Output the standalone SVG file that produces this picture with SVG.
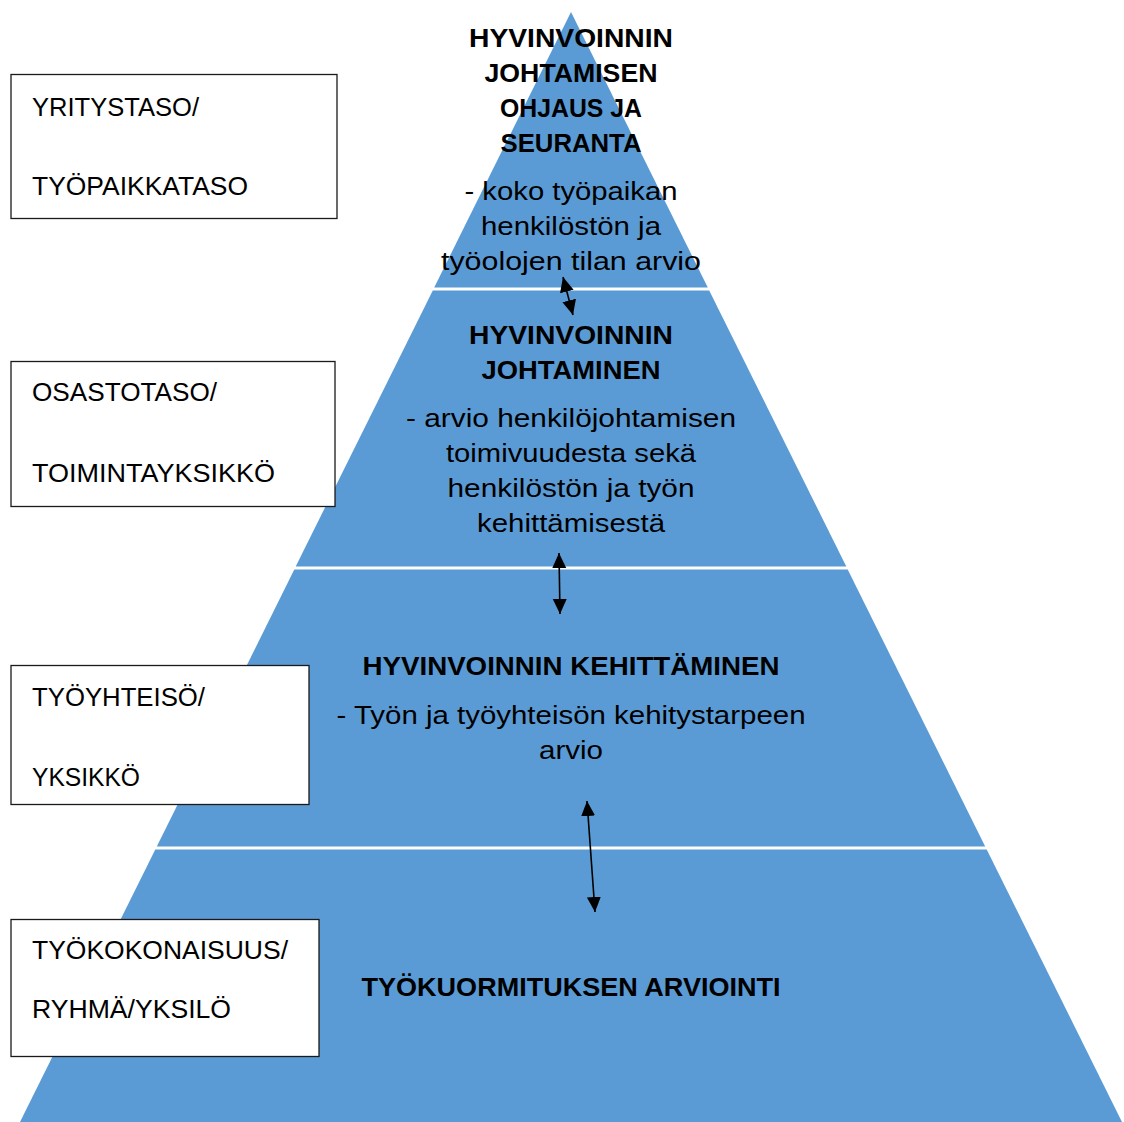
<svg xmlns="http://www.w3.org/2000/svg" width="1124" height="1122" viewBox="0 0 1124 1122">
<style>
.layer{fill:#5B9BD5;}
.box{fill:#FFFFFF;stroke:#1A1A1A;stroke-width:1.3;}
.t{font-family:"Liberation Sans",Arial,sans-serif;fill:#000;}
.h{font-size:26px;font-weight:bold;text-anchor:middle;}
.n{font-size:26px;text-anchor:middle;}
.l{font-size:25px;}
.con{stroke:#000;stroke-width:1.6;fill:none;marker-start:url(#ah);marker-end:url(#ah);}
</style>
<defs>
<marker id="ah" markerUnits="userSpaceOnUse" markerWidth="16" markerHeight="16" viewBox="0 0 16 14" refX="15" refY="7" orient="auto-start-reverse">
<path d="M0,0 L15,7 L0,14 z" fill="#000"/>
</marker>
</defs>
<rect width="1124" height="1122" fill="#FFFFFF"/>

<g id="layer1">
<polygon class="layer" points="571,12 707.8,287.5 434.2,287.5"/>
<text class="t h" x="571" y="47" textLength="204" lengthAdjust="spacingAndGlyphs">HYVINVOINNIN</text>
<text class="t h" x="571" y="82" textLength="173" lengthAdjust="spacingAndGlyphs">JOHTAMISEN</text>
<text class="t h" x="571" y="117" textLength="142" lengthAdjust="spacingAndGlyphs">OHJAUS JA</text>
<text class="t h" x="571" y="152" textLength="141" lengthAdjust="spacingAndGlyphs">SEURANTA</text>
<text class="t n" x="571" y="200" textLength="213" lengthAdjust="spacingAndGlyphs">- koko työpaikan</text>
<text class="t n" x="571" y="235" textLength="180" lengthAdjust="spacingAndGlyphs">henkilöstön ja</text>
<text class="t n" x="571" y="270" textLength="260" lengthAdjust="spacingAndGlyphs">työolojen tilan arvio</text>
</g>

<g id="layer2">
<polygon class="layer" points="432.8,290.5 709.2,290.5 846.3,566.5 295.7,566.5"/>
<text class="t h" x="571" y="344" textLength="204" lengthAdjust="spacingAndGlyphs">HYVINVOINNIN</text>
<text class="t h" x="571" y="379" textLength="179" lengthAdjust="spacingAndGlyphs">JOHTAMINEN</text>
<text class="t n" x="571" y="427" textLength="330" lengthAdjust="spacingAndGlyphs">- arvio henkilöjohtamisen</text>
<text class="t n" x="571" y="462" textLength="250" lengthAdjust="spacingAndGlyphs">toimivuudesta sekä</text>
<text class="t n" x="571" y="497" textLength="247" lengthAdjust="spacingAndGlyphs">henkilöstön ja työn</text>
<text class="t n" x="571" y="532" textLength="188" lengthAdjust="spacingAndGlyphs">kehittämisestä</text>
</g>

<g id="layer3">
<polygon class="layer" points="294.3,569.5 847.7,569.5 985.2,846.5 156.8,846.5"/>
<text class="t h" x="571" y="675" textLength="417" lengthAdjust="spacingAndGlyphs">HYVINVOINNIN KEHITTÄMINEN</text>
<text class="t n" x="571" y="724" textLength="469" lengthAdjust="spacingAndGlyphs">- Työn ja työyhteisön kehitystarpeen</text>
<text class="t n" x="571" y="759" textLength="64" lengthAdjust="spacingAndGlyphs">arvio</text>
</g>

<g id="layer4">
<polygon class="layer" points="155.3,849.5 986.7,849.5 1122,1122 20,1122"/>
<text class="t h" x="571" y="996" textLength="419" lengthAdjust="spacingAndGlyphs">TYÖKUORMITUKSEN ARVIOINTI</text>
</g>

<g id="box1">
<rect class="box" x="11" y="74.5" width="326" height="144"/>
<text class="t l" x="32" y="116" textLength="167" lengthAdjust="spacingAndGlyphs">YRITYSTASO/</text>
<text class="t l" x="32" y="195" textLength="216" lengthAdjust="spacingAndGlyphs">TYÖPAIKKATASO</text>
</g>

<g id="box2">
<rect class="box" x="11" y="361.5" width="324" height="145"/>
<text class="t l" x="32" y="401" textLength="185" lengthAdjust="spacingAndGlyphs">OSASTOTASO/</text>
<text class="t l" x="32" y="482" textLength="243" lengthAdjust="spacingAndGlyphs">TOIMINTAYKSIKKÖ</text>
</g>

<g id="box3">
<rect class="box" x="11" y="665.5" width="298" height="139"/>
<text class="t l" x="32" y="706" textLength="173" lengthAdjust="spacingAndGlyphs">TYÖYHTEISÖ/</text>
<text class="t l" x="32" y="786" textLength="108" lengthAdjust="spacingAndGlyphs">YKSIKKÖ</text>
</g>

<g id="box4">
<rect class="box" x="11" y="919.5" width="308" height="137"/>
<text class="t l" x="32" y="959" textLength="256" lengthAdjust="spacingAndGlyphs">TYÖKOKONAISUUS/</text>
<text class="t l" x="32" y="1018" textLength="199" lengthAdjust="spacingAndGlyphs">RYHMÄ/YKSILÖ</text>
</g>

<g id="connectors">
<line class="con" x1="563" y1="277" x2="573" y2="315"/>
<line class="con" x1="559" y1="553" x2="560" y2="614"/>
<line class="con" x1="587" y1="801" x2="595" y2="912"/>
</g>
</svg>
